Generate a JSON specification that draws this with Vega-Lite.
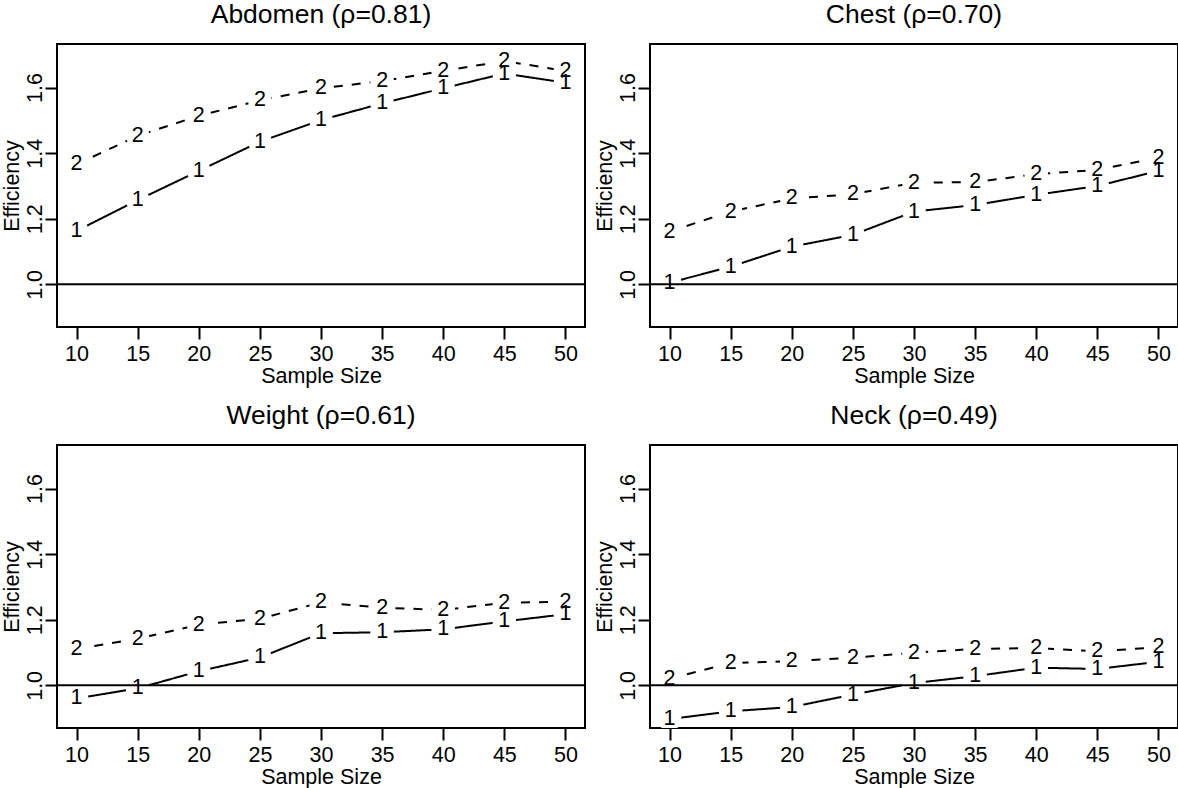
{
  "$schema": "https://vega.github.io/schema/vega-lite/v6.json",
  "background": "white",
  "padding": {"left": -1, "top": 0, "right": 0, "bottom": 0},
  "datasets": {
    "d": [
      {"p": "Abdomen", "s": "1", "n": 10, "e": 1.163},
      {"p": "Abdomen", "s": "1", "n": 15, "e": 1.257},
      {"p": "Abdomen", "s": "1", "n": 20, "e": 1.346},
      {"p": "Abdomen", "s": "1", "n": 25, "e": 1.435},
      {"p": "Abdomen", "s": "1", "n": 30, "e": 1.501},
      {"p": "Abdomen", "s": "1", "n": 35, "e": 1.552},
      {"p": "Abdomen", "s": "1", "n": 40, "e": 1.598},
      {"p": "Abdomen", "s": "1", "n": 45, "e": 1.643},
      {"p": "Abdomen", "s": "1", "n": 50, "e": 1.615},
      {"p": "Abdomen", "s": "2", "n": 10, "e": 1.366},
      {"p": "Abdomen", "s": "2", "n": 15, "e": 1.453},
      {"p": "Abdomen", "s": "2", "n": 20, "e": 1.514},
      {"p": "Abdomen", "s": "2", "n": 25, "e": 1.561},
      {"p": "Abdomen", "s": "2", "n": 30, "e": 1.598},
      {"p": "Abdomen", "s": "2", "n": 35, "e": 1.620},
      {"p": "Abdomen", "s": "2", "n": 40, "e": 1.651},
      {"p": "Abdomen", "s": "2", "n": 45, "e": 1.681},
      {"p": "Abdomen", "s": "2", "n": 50, "e": 1.651},
      {"p": "Chest", "s": "1", "n": 10, "e": 1.005},
      {"p": "Chest", "s": "1", "n": 15, "e": 1.054},
      {"p": "Chest", "s": "1", "n": 20, "e": 1.115},
      {"p": "Chest", "s": "1", "n": 25, "e": 1.151},
      {"p": "Chest", "s": "1", "n": 30, "e": 1.222},
      {"p": "Chest", "s": "1", "n": 35, "e": 1.242},
      {"p": "Chest", "s": "1", "n": 40, "e": 1.273},
      {"p": "Chest", "s": "1", "n": 45, "e": 1.300},
      {"p": "Chest", "s": "1", "n": 50, "e": 1.346},
      {"p": "Chest", "s": "2", "n": 10, "e": 1.161},
      {"p": "Chest", "s": "2", "n": 15, "e": 1.222},
      {"p": "Chest", "s": "2", "n": 20, "e": 1.262},
      {"p": "Chest", "s": "2", "n": 25, "e": 1.275},
      {"p": "Chest", "s": "2", "n": 30, "e": 1.310},
      {"p": "Chest", "s": "2", "n": 35, "e": 1.312},
      {"p": "Chest", "s": "2", "n": 40, "e": 1.336},
      {"p": "Chest", "s": "2", "n": 45, "e": 1.349},
      {"p": "Chest", "s": "2", "n": 50, "e": 1.386},
      {"p": "Weight", "s": "1", "n": 10, "e": 0.960},
      {"p": "Weight", "s": "1", "n": 15, "e": 0.991},
      {"p": "Weight", "s": "1", "n": 20, "e": 1.043},
      {"p": "Weight", "s": "1", "n": 25, "e": 1.085},
      {"p": "Weight", "s": "1", "n": 30, "e": 1.159},
      {"p": "Weight", "s": "1", "n": 35, "e": 1.162},
      {"p": "Weight", "s": "1", "n": 40, "e": 1.171},
      {"p": "Weight", "s": "1", "n": 45, "e": 1.195},
      {"p": "Weight", "s": "1", "n": 50, "e": 1.217},
      {"p": "Weight", "s": "2", "n": 10, "e": 1.111},
      {"p": "Weight", "s": "2", "n": 15, "e": 1.142},
      {"p": "Weight", "s": "2", "n": 20, "e": 1.185},
      {"p": "Weight", "s": "2", "n": 25, "e": 1.203},
      {"p": "Weight", "s": "2", "n": 30, "e": 1.253},
      {"p": "Weight", "s": "2", "n": 35, "e": 1.237},
      {"p": "Weight", "s": "2", "n": 40, "e": 1.230},
      {"p": "Weight", "s": "2", "n": 45, "e": 1.252},
      {"p": "Weight", "s": "2", "n": 50, "e": 1.255},
      {"p": "Neck", "s": "1", "n": 10, "e": 0.897},
      {"p": "Neck", "s": "1", "n": 15, "e": 0.921},
      {"p": "Neck", "s": "1", "n": 20, "e": 0.934},
      {"p": "Neck", "s": "1", "n": 25, "e": 0.972},
      {"p": "Neck", "s": "1", "n": 30, "e": 1.007},
      {"p": "Neck", "s": "1", "n": 35, "e": 1.028},
      {"p": "Neck", "s": "1", "n": 40, "e": 1.054},
      {"p": "Neck", "s": "1", "n": 45, "e": 1.050},
      {"p": "Neck", "s": "1", "n": 50, "e": 1.072},
      {"p": "Neck", "s": "2", "n": 10, "e": 1.020},
      {"p": "Neck", "s": "2", "n": 15, "e": 1.068},
      {"p": "Neck", "s": "2", "n": 20, "e": 1.074},
      {"p": "Neck", "s": "2", "n": 25, "e": 1.084},
      {"p": "Neck", "s": "2", "n": 30, "e": 1.100},
      {"p": "Neck", "s": "2", "n": 35, "e": 1.111},
      {"p": "Neck", "s": "2", "n": 40, "e": 1.114},
      {"p": "Neck", "s": "2", "n": 45, "e": 1.104},
      {"p": "Neck", "s": "2", "n": 50, "e": 1.116}
    ]
  },
  "columns": 2,
  "bounds": "flush",
  "spacing": {"row": 118, "column": 65},
  "concat": [
    {
      "width": 528, "height": 283,
      "title": {"text": "Abdomen (ρ=0.81)"},
      "layer": [
        {"data": {"name": "d"}, "transform": [{"filter": "datum.p === 'Abdomen'"}],
         "mark": {"type": "line", "color": "black", "strokeWidth": 2},
         "encoding": {
           "x": {"field": "n", "type": "quantitative", "scale": {"domain": [8.4, 51.6], "nice": false, "zero": false}, "axis": {"values": [10, 15, 20, 25, 30, 35, 40, 45, 50], "title": "Sample Size"}},
           "y": {"field": "e", "type": "quantitative", "scale": {"domain": [0.870, 1.733], "nice": false, "zero": false}, "axis": {"values": [1.0, 1.2, 1.4, 1.6], "format": ".1f", "title": "Efficiency"}},
           "strokeDash": {"field": "s", "type": "nominal", "scale": {"domain": ["1", "2"], "range": [[1, 0], [9, 9]]}, "legend": null}
         }},
        {"data": {"name": "d"}, "transform": [{"filter": "datum.p === 'Abdomen'"}],
         "mark": {"type": "point", "shape": "circle", "filled": true, "color": "white", "opacity": 1, "size": 560, "clip": true},
         "encoding": {
           "x": {"field": "n", "type": "quantitative"},
           "y": {"field": "e", "type": "quantitative"}
         }},
        {"data": {"name": "d"}, "transform": [{"filter": "datum.p === 'Abdomen'"}],
         "mark": {"type": "text", "font": "Liberation Sans", "fontSize": 21.5, "color": "black", "align": "center", "baseline": "middle"},
         "encoding": {
           "x": {"field": "n", "type": "quantitative"},
           "y": {"field": "e", "type": "quantitative"},
           "text": {"field": "s", "type": "nominal"}
         }},
        {"data": {"values": [{"e": 1}]},
         "mark": {"type": "rule", "color": "black", "strokeWidth": 2},
         "encoding": {"y": {"field": "e", "type": "quantitative"}}}
      ]
    },
    {
      "width": 528, "height": 283,
      "title": {"text": "Chest (ρ=0.70)"},
      "layer": [
        {"data": {"name": "d"}, "transform": [{"filter": "datum.p === 'Chest'"}],
         "mark": {"type": "line", "color": "black", "strokeWidth": 2},
         "encoding": {
           "x": {"field": "n", "type": "quantitative", "scale": {"domain": [8.4, 51.6], "nice": false, "zero": false}, "axis": {"values": [10, 15, 20, 25, 30, 35, 40, 45, 50], "title": "Sample Size"}},
           "y": {"field": "e", "type": "quantitative", "scale": {"domain": [0.870, 1.733], "nice": false, "zero": false}, "axis": {"values": [1.0, 1.2, 1.4, 1.6], "format": ".1f", "title": "Efficiency"}},
           "strokeDash": {"field": "s", "type": "nominal", "scale": {"domain": ["1", "2"], "range": [[1, 0], [9, 9]]}, "legend": null}
         }},
        {"data": {"name": "d"}, "transform": [{"filter": "datum.p === 'Chest'"}],
         "mark": {"type": "point", "shape": "circle", "filled": true, "color": "white", "opacity": 1, "size": 560, "clip": true},
         "encoding": {
           "x": {"field": "n", "type": "quantitative"},
           "y": {"field": "e", "type": "quantitative"}
         }},
        {"data": {"name": "d"}, "transform": [{"filter": "datum.p === 'Chest'"}],
         "mark": {"type": "text", "font": "Liberation Sans", "fontSize": 21.5, "color": "black", "align": "center", "baseline": "middle"},
         "encoding": {
           "x": {"field": "n", "type": "quantitative"},
           "y": {"field": "e", "type": "quantitative"},
           "text": {"field": "s", "type": "nominal"}
         }},
        {"data": {"values": [{"e": 1}]},
         "mark": {"type": "rule", "color": "black", "strokeWidth": 2},
         "encoding": {"y": {"field": "e", "type": "quantitative"}}}
      ]
    },
    {
      "width": 528, "height": 283,
      "title": {"text": "Weight (ρ=0.61)"},
      "layer": [
        {"data": {"name": "d"}, "transform": [{"filter": "datum.p === 'Weight'"}],
         "mark": {"type": "line", "color": "black", "strokeWidth": 2},
         "encoding": {
           "x": {"field": "n", "type": "quantitative", "scale": {"domain": [8.4, 51.6], "nice": false, "zero": false}, "axis": {"values": [10, 15, 20, 25, 30, 35, 40, 45, 50], "title": "Sample Size"}},
           "y": {"field": "e", "type": "quantitative", "scale": {"domain": [0.870, 1.733], "nice": false, "zero": false}, "axis": {"values": [1.0, 1.2, 1.4, 1.6], "format": ".1f", "title": "Efficiency"}},
           "strokeDash": {"field": "s", "type": "nominal", "scale": {"domain": ["1", "2"], "range": [[1, 0], [9, 9]]}, "legend": null}
         }},
        {"data": {"name": "d"}, "transform": [{"filter": "datum.p === 'Weight'"}],
         "mark": {"type": "point", "shape": "circle", "filled": true, "color": "white", "opacity": 1, "size": 560, "clip": true},
         "encoding": {
           "x": {"field": "n", "type": "quantitative"},
           "y": {"field": "e", "type": "quantitative"}
         }},
        {"data": {"name": "d"}, "transform": [{"filter": "datum.p === 'Weight'"}],
         "mark": {"type": "text", "font": "Liberation Sans", "fontSize": 21.5, "color": "black", "align": "center", "baseline": "middle"},
         "encoding": {
           "x": {"field": "n", "type": "quantitative"},
           "y": {"field": "e", "type": "quantitative"},
           "text": {"field": "s", "type": "nominal"}
         }},
        {"data": {"values": [{"e": 1}]},
         "mark": {"type": "rule", "color": "black", "strokeWidth": 2},
         "encoding": {"y": {"field": "e", "type": "quantitative"}}}
      ]
    },
    {
      "width": 528, "height": 283,
      "title": {"text": "Neck (ρ=0.49)"},
      "layer": [
        {"data": {"name": "d"}, "transform": [{"filter": "datum.p === 'Neck'"}],
         "mark": {"type": "line", "color": "black", "strokeWidth": 2},
         "encoding": {
           "x": {"field": "n", "type": "quantitative", "scale": {"domain": [8.4, 51.6], "nice": false, "zero": false}, "axis": {"values": [10, 15, 20, 25, 30, 35, 40, 45, 50], "title": "Sample Size"}},
           "y": {"field": "e", "type": "quantitative", "scale": {"domain": [0.870, 1.733], "nice": false, "zero": false}, "axis": {"values": [1.0, 1.2, 1.4, 1.6], "format": ".1f", "title": "Efficiency"}},
           "strokeDash": {"field": "s", "type": "nominal", "scale": {"domain": ["1", "2"], "range": [[1, 0], [9, 9]]}, "legend": null}
         }},
        {"data": {"name": "d"}, "transform": [{"filter": "datum.p === 'Neck'"}],
         "mark": {"type": "point", "shape": "circle", "filled": true, "color": "white", "opacity": 1, "size": 560, "clip": true},
         "encoding": {
           "x": {"field": "n", "type": "quantitative"},
           "y": {"field": "e", "type": "quantitative"}
         }},
        {"data": {"name": "d"}, "transform": [{"filter": "datum.p === 'Neck'"}],
         "mark": {"type": "text", "font": "Liberation Sans", "fontSize": 21.5, "color": "black", "align": "center", "baseline": "middle"},
         "encoding": {
           "x": {"field": "n", "type": "quantitative"},
           "y": {"field": "e", "type": "quantitative"},
           "text": {"field": "s", "type": "nominal"}
         }},
        {"data": {"values": [{"e": 1}]},
         "mark": {"type": "rule", "color": "black", "strokeWidth": 2},
         "encoding": {"y": {"field": "e", "type": "quantitative"}}}
      ]
    }
  ],
  "config": {
    "view": {"stroke": "black", "strokeWidth": 2},
    "title": {"font": "Liberation Sans", "fontSize": 26.5, "fontWeight": "normal", "color": "black", "frame": "group", "anchor": "middle", "offset": 16},
    "axis": {"domain": false, "grid": false, "ticks": true, "tickColor": "black", "tickSize": 12, "tickWidth": 2, "labelFont": "Liberation Sans", "labelFontSize": 21.5, "labelColor": "black", "labelPadding": 4, "titleFont": "Liberation Sans", "titleFontSize": 21.5, "titleFontWeight": "normal", "titleColor": "black"},
    "axisX": {"titlePadding": 1},
    "axisY": {"labelAngle": 270, "labelAlign": "center", "labelBaseline": "alphabetic", "labelPadding": 4, "titlePadding": 1}
  }
}
